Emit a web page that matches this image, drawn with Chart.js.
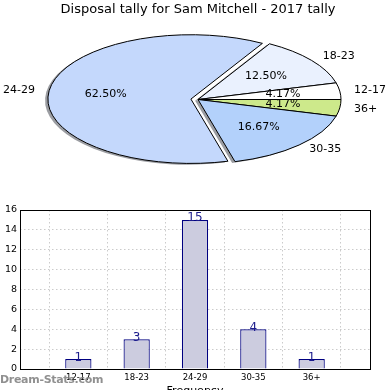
<!DOCTYPE html>
<html><head><meta charset="utf-8">
<script src="https://cdn.jsdelivr.net/npm/chart.js@4"></script>
<style>
html,body{margin:0;padding:0;background:#fff;width:390px;height:390px;overflow:hidden;position:relative}
#pie{position:absolute;left:0;top:0}
#bar{position:absolute;left:0;top:200px}
#wm{position:absolute;left:0;top:373px;font:11px "DejaVu Sans";color:rgba(125,125,125,0.85);white-space:nowrap;font-weight:bold;letter-spacing:-0.3px}
</style></head><body>
<canvas id="pie" width="390" height="200"></canvas>
<canvas id="bar" width="390" height="205"></canvas>
<div id="wm">Dream-Stats.com</div>
<script>
const chartTitle = 'Disposal tally for Sam Mitchell - 2017 tally';
const categories = ['12-17', '18-23', '24-29', '30-35', '36+'];
const counts = [1, 3, 15, 4, 1];
const yTicks = [0, 2, 4, 6, 8, 10, 12, 14, 16];
const xAxisTitle = 'Frequency';
const watermark = 'Dream-Stats.com';

// styling
const sliceColors = ['#ffffff', '#eaf1fe', '#c4d8fc', '#b3d1fb', '#cde98b'];
const explodeFrac = [0, 0, 0.05, 0, 0];
const K = 0.45; // vertical squash of the pie

// pie drawn clockwise from 3 o'clock -> reverse order to mimic counter-clockwise
const rev = a => a.slice().reverse();

const ellipsePlugin = {
  id: 'ellipse',
  beforeDatasetsDraw(chart, args, opts) {
    const ctx = chart.ctx, arcs = chart.getDatasetMeta(0).data;
    if (!arcs.length) return;
    const cx = arcs[0].x, cy = arcs[0].y, R = arcs[0].outerRadius;
    const dpr = chart.currentDevicePixelRatio || 1;
    ctx.save();
    ctx.translate(cx, cy); ctx.scale(1, K); ctx.translate(-cx, -cy);
    ctx.stroke = function () { this.save(); this.setTransform(dpr, 0, 0, dpr, 0, 0); CanvasRenderingContext2D.prototype.stroke.apply(this, arguments); this.restore(); };
    const shift = (arc, i) => { const m = (arc.startAngle + arc.endAngle) / 2, d = opts.explode[i] * R; return [Math.cos(m) * d, Math.sin(m) * d]; };
    arcs.forEach((arc, i) => {
      const [dx, dy] = shift(arc, i);
      const s = Object.create(arc);
      s.options = Object.assign({}, arc.options, { backgroundColor: opts.shadowColor, borderWidth: 0 });
      ctx.save(); ctx.translate(dx - 0.02 * R, dy + 0.02 * R); s.draw(ctx); ctx.restore();
    });
    arcs.forEach((arc, i) => {
      const [dx, dy] = shift(arc, i);
      ctx.save(); ctx.translate(dx, dy); arc.draw(ctx); ctx.restore();
    });
    delete ctx.stroke;
    ctx.restore();
    return false;
  },
  afterDraw(chart, args, opts) {
    const ctx = chart.ctx, arcs = chart.getDatasetMeta(0).data;
    if (!arcs.length) return;
    const cx = arcs[0].x, cy = arcs[0].y, R = arcs[0].outerRadius;
    const vals = chart.data.datasets[0].data, labels = chart.data.labels;
    const total = vals.reduce((a, b) => a + b, 0);
    ctx.save();
    ctx.font = '11px "DejaVu Sans"'; ctx.fillStyle = '#000'; ctx.textBaseline = 'middle';
    arcs.forEach((arc, i) => {
      const m = (arc.startAngle + arc.endAngle) / 2, d = opts.explode[i] * R;
      const c = Math.cos(m), s = Math.sin(m);
      const pt = f => [cx + (d + f * R) * c, cy + K * (d + f * R) * s];
      const [lx, ly] = pt(1.1);
      ctx.textAlign = c >= 0 ? 'left' : 'right';
      ctx.fillText(labels[i], lx, ly);
      const [qx, qy] = pt(0.6);
      ctx.textAlign = 'center';
      ctx.fillText((vals[i] / total * 100).toFixed(2) + '%', qx, qy);
    });
    ctx.restore();
  }
};

new Chart(document.getElementById('pie'), {
  type: 'pie',
  data: {
    labels: rev(categories),
    datasets: [{ data: rev(counts), backgroundColor: rev(sliceColors), borderColor: '#000', borderWidth: 1 }]
  },
  options: {
    responsive: false, animation: false, rotation: 90, radius: 143,
    layout: { padding: { left: 6, bottom: 20.6, top: 0, right: 0 } },
    plugins: {
      legend: { display: false }, tooltip: { enabled: false },
      title: { display: true, text: chartTitle, color: '#000', font: { family: 'DejaVu Sans', size: 13, weight: 'normal' }, padding: { top: 2, bottom: 2 } },
      ellipse: { explode: rev(explodeFrac), shadowColor: 'rgba(55,60,70,0.5)' }
    }
  },
  plugins: [ellipsePlugin]
});

const barPlugin = {
  id: 'barDeco',
  afterDatasetsDraw(chart) {
    const ctx = chart.ctx, meta = chart.getDatasetMeta(0);
    ctx.save();
    ctx.font = '12px "DejaVu Sans"'; ctx.fillStyle = '#1c1c8c'; ctx.textAlign = 'center'; ctx.textBaseline = 'alphabetic';
    meta.data.forEach((bar, i) => ctx.fillText(String(chart.data.datasets[0].data[i].y), bar.x, bar.y + 1.5));
    ctx.restore();
  },
  afterDraw(chart) {
    const ctx = chart.ctx, a = chart.chartArea;
    ctx.save(); ctx.strokeStyle = '#000'; ctx.lineWidth = 1;
    ctx.strokeRect(Math.round(a.left) + 0.5, Math.round(a.top) + 0.5, Math.round(a.right - a.left), Math.round(a.bottom - a.top));
    ctx.restore();
  }
};

new Chart(document.getElementById('bar'), {
  type: 'bar',
  data: {
    datasets: [{
      data: categories.map((c, i) => ({ x: i, y: counts[i] })),
      backgroundColor: '#ccccdf', borderColor: '#000080', borderWidth: 1.2,
      categoryPercentage: 0.45, barPercentage: 1
    }]
  },
  options: {
    responsive: false, animation: false,
    layout: { padding: { top: 10, right: 20, left: 0, bottom: 0 } },
    plugins: { legend: { display: false }, tooltip: { enabled: false } },
    scales: {
      x: {
        type: 'linear', min: -1, max: categories.length, offset: false, z: 1,
        afterFit: s => { s.height = 36; },
        ticks: { stepSize: 1, autoSkip: false, maxRotation: 0, padding: 4, color: '#000', font: { family: 'DejaVu Sans', size: 8.5 },
          callback: v => (categories[v] !== undefined ? categories[v] : '') },
        grid: { color: '#cbcbcb', drawTicks: false },
        border: { display: false, dash: [1.5, 2.5] },
        title: { display: true, text: xAxisTitle, color: '#000', font: { family: 'DejaVu Sans', size: 11 }, padding: { top: 0, bottom: 7.4 } }
      },
      y: {
        min: yTicks[0], max: yTicks[yTicks.length - 1], z: 1,
        afterFit: s => { s.width = 20; },
        ticks: { stepSize: yTicks[1] - yTicks[0], padding: 3, color: '#000', font: { family: 'DejaVu Sans', size: 9.5 } },
        grid: { color: '#cbcbcb', drawTicks: false },
        border: { display: false, dash: [1.5, 2.5] }
      }
    }
  },
  plugins: [barPlugin]
});
document.getElementById('wm').textContent = watermark;
</script>
</body></html>
